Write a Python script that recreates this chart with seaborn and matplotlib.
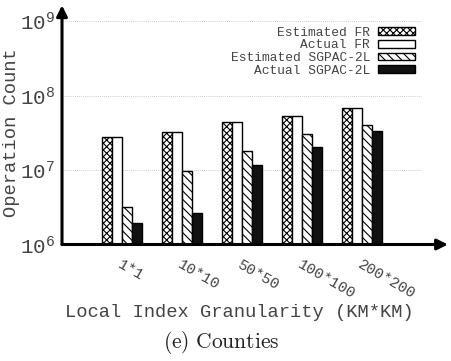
import numpy as np
import pandas as pd
import matplotlib
matplotlib.use("Agg")
import matplotlib.pyplot as plt
import seaborn as sns

categories = ['1*1', '10*10', '50*50', '100*100', '200*200']
series_names = ['Estimated FR', 'Actual FR', 'Estimated SGPAC-2L', 'Actual SGPAC-2L']
est_fr = [2.75e7, 3.27e7, 4.45e7, 5.35e7, 6.7e7]
act_fr = [2.75e7, 3.27e7, 4.45e7, 5.35e7, 6.7e7]
est_sg = [3.2e6, 9.8e6, 1.8e7, 3.0e7, 4.0e7]
act_sg = [1.94e6, 2.65e6, 1.17e7, 2.05e7, 3.3e7]
y_ticks = [1e6, 1e7, 1e8, 1e9]

sns.set_theme(style='white')
plt.rcParams['font.family'] = ['Liberation Mono', 'DejaVu Sans Mono']
plt.rcParams['mathtext.fontset'] = 'custom'
plt.rcParams['mathtext.rm'] = 'Liberation Mono'
plt.rcParams['hatch.linewidth'] = 0.8

rows = []
for name, vals in zip(series_names, [est_fr, act_fr, est_sg, act_sg]):
    for c, v in zip(categories, vals):
        rows.append({'cat': c, 'series': name, 'value': v})
df = pd.DataFrame(rows)

fig = plt.figure(figsize=(4.51, 3.61), dpi=100)
ax = fig.add_axes([62/451, 1-244.5/361, 360/451, 223.5/361])

palette = {'Estimated FR': 'white', 'Actual FR': 'white',
           'Estimated SGPAC-2L': 'white', 'Actual SGPAC-2L': '#111111'}
sns.barplot(data=df, x='cat', y='value', hue='series', hue_order=series_names,
            order=categories, palette=palette, width=0.68, gap=0,
            edgecolor='black', linewidth=1.0, ax=ax, legend=False, saturation=1)

hatches = ['xxxxx', '', '\\\\\\\\', '']
for cont, h in zip(ax.containers, hatches):
    for p in cont:
        p.set_hatch(h)
        p.set_edgecolor('black')

ax.set_yscale('log')
ax.set_ylim(1e6, 1e9)
ax.set_xlim(-1, 5)
ax.set_yticks(y_ticks)
ax.minorticks_off()
ax.yaxis.set_minor_locator(matplotlib.ticker.NullLocator())
for y in y_ticks[1:]:
    ax.axhline(y, color='#bbbbbb', lw=0.6, ls=(0, (1, 1.5)), zorder=0)

for s in ax.spines.values():
    s.set_visible(False)
ax.annotate('', xy=(0, 1.07), xytext=(0, 0), xycoords='axes fraction',
            arrowprops=dict(arrowstyle='-|>', lw=2.2, color='black',
                            shrinkA=0, shrinkB=0, mutation_scale=16), annotation_clip=False)
ax.annotate('', xy=(1.072, 0), xytext=(0, 0), xycoords='axes fraction',
            arrowprops=dict(arrowstyle='-|>', lw=2.2, color='black',
                            shrinkA=0, shrinkB=0, mutation_scale=16), annotation_clip=False)

ax.tick_params(axis='both', length=0)
ax.tick_params(axis='y', labelsize=15, colors='#444444', pad=5)
ax.set_xticks(range(len(categories)))
ax.set_xticklabels(categories, rotation=-30, ha='left', rotation_mode='anchor',
                   fontsize=11, color='#444444')
ax.tick_params(axis='x', pad=9)

ax.set_ylabel('Operation Count', fontsize=13.5, color='#444444')
ax.yaxis.set_label_coords(-0.118, 0.5)
ax.set_xlabel('Local Index Granularity (KM*KM)', fontsize=13.5, color='#444444')
ax.xaxis.set_label_coords(0.494, -0.265)

handles = [c.patches[0] for c in ax.containers]
leg = ax.legend(handles, series_names, loc='upper right', frameon=False,
                markerfirst=False, fontsize=9.3, handlelength=2.9, handleheight=0.5,
                labelspacing=0.05, borderaxespad=0.0, borderpad=0.1, handletextpad=0.6,
                bbox_to_anchor=(0.985, 0.98))
for t in leg.get_texts():
    t.set_color('#444444')

fig.text(221/451, 1-343/361, r'$\mathrm{(e)\ Counties}$', ha='center', va='center',
         fontsize=15.5, math_fontfamily='cm', color='#222222')

fig.savefig('out.png', dpi=100)
